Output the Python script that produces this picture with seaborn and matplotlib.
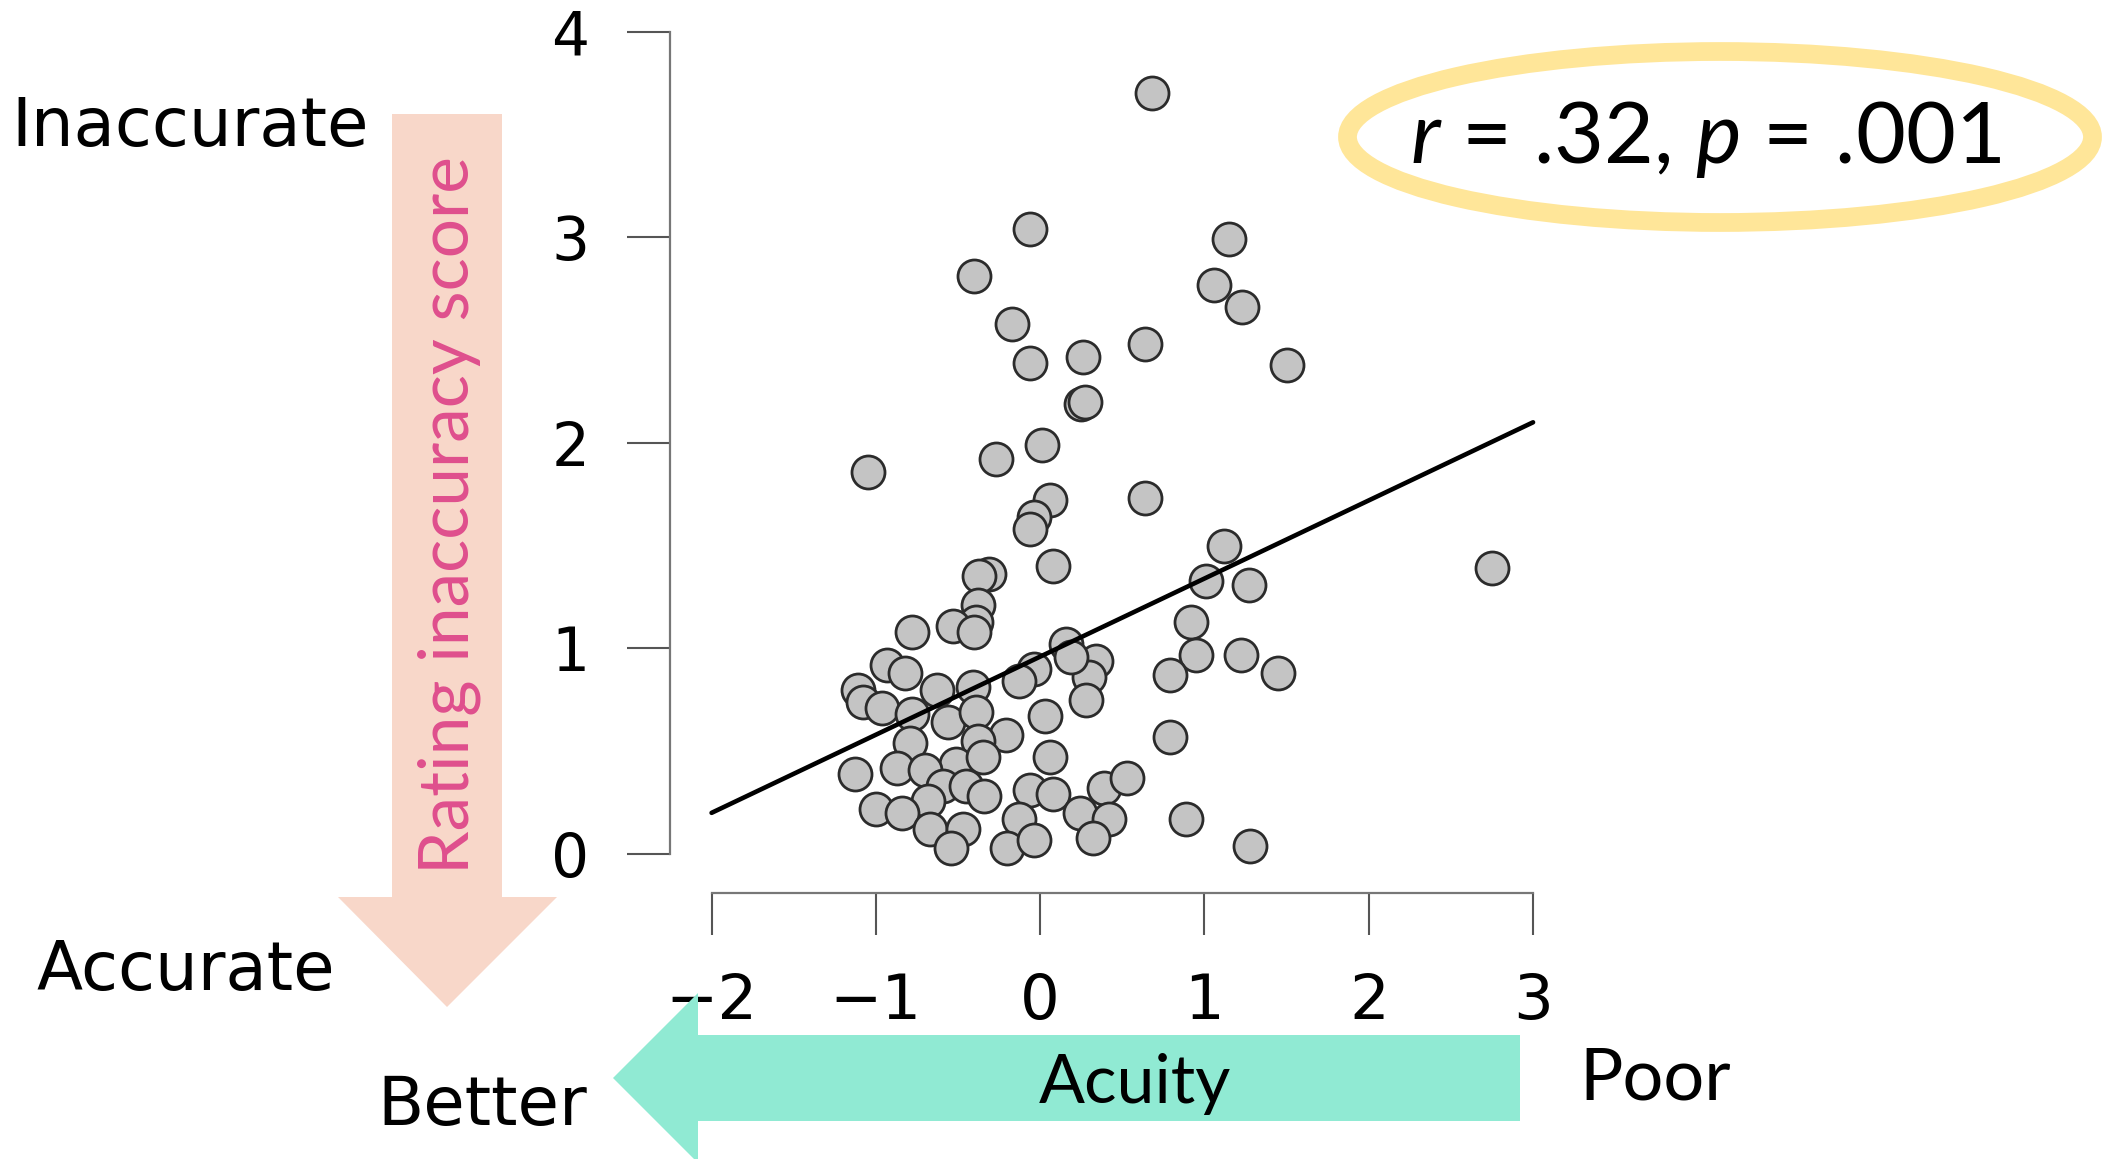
import seaborn as sns
import matplotlib.pyplot as plt
from matplotlib.patches import Polygon, Ellipse

# acuity (x) and rating inaccuracy score (y)
acuity = [0.68, -0.06, -0.40, 1.15, 1.06, 1.23, -0.17, -0.06, 0.26, 0.64,
          1.50, 0.25, 0.27, 0.01, -0.27, -1.05, 0.06, 0.64, -0.04, -0.06,
          0.08, 1.12, 1.01, 1.27, 2.75, -0.31, -0.37, -0.38, -0.39, -0.53,
          -0.78, 0.16, 0.92, 0.95, 1.22, 1.45, 0.79, 0.34, 0.30, 0.28,
          -0.04, -0.13, -0.93, -0.82, -1.11, -1.08, -0.96, -0.63, -0.41, -0.78,
          -0.56, -0.39, 0.03, -0.21, -0.38, -0.79, 0.79, 0.06, -0.51, -0.35,
          -1.13, -0.87, -0.70, -0.59, -0.45, -0.34, -0.06, 0.08, 0.39, 0.53,
          -0.68, -1.00, -0.84, -0.13, 0.24, 0.42, 0.89, -0.67, -0.47, -0.54,
          -0.20, -0.04, 0.32, 1.28, -0.40, 0.19]
inaccuracy = [3.70, 3.04, 2.81, 2.99, 2.77, 2.66, 2.58, 2.39, 2.42, 2.48,
              2.38, 2.19, 2.20, 1.99, 1.92, 1.86, 1.72, 1.73, 1.64, 1.58,
              1.40, 1.50, 1.33, 1.31, 1.39, 1.36, 1.35, 1.21, 1.13, 1.11,
              1.08, 1.02, 1.13, 0.97, 0.97, 0.88, 0.87, 0.94, 0.86, 0.75,
              0.90, 0.84, 0.92, 0.88, 0.80, 0.74, 0.71, 0.80, 0.81, 0.68,
              0.64, 0.69, 0.67, 0.58, 0.55, 0.54, 0.57, 0.47, 0.44, 0.47,
              0.39, 0.42, 0.41, 0.33, 0.33, 0.28, 0.31, 0.29, 0.32, 0.37,
              0.26, 0.22, 0.20, 0.17, 0.20, 0.17, 0.17, 0.12, 0.12, 0.03,
              0.03, 0.07, 0.08, 0.04, 1.08, 0.96]

# fitted line as drawn in the figure (end points at x = -2 and x = 3)
fit_x = [-2, 3]
fit_y = [0.20, 2.10]

x_ticks = [-2, -1, 0, 1, 2, 3]
y_ticks = [0, 1, 2, 3, 4]
stat_text = r'$\mathit{r}$ = .32, $\mathit{p}$ = .001'

sns.set_style('ticks')
plt.rcParams['font.family'] = ['DejaVu Sans']
plt.rcParams['text.color'] = 'black'
plt.rcParams['mathtext.fontset'] = 'custom'
plt.rcParams['mathtext.it'] = 'Lato:italic'
plt.rcParams['mathtext.rm'] = 'Lato'

fig = plt.figure(figsize=(21.05, 11.59), dpi=100)
ax = fig.add_axes([0.3183, 0.2295, 0.4178, 0.7431])
ax.patch.set_alpha(0)

sns.scatterplot(x=acuity, y=inaccuracy, s=565, color='#c4c4c4',
                edgecolor='#2b2b2b', linewidth=2, ax=ax)
sns.lineplot(x=fit_x, y=fit_y, color='black', linewidth=3.3, ax=ax)
ax.set_xlim(-2.253, 3.1)
ax.set_ylim(-0.19, 4.0)

sns.despine(ax=ax)
ax.spines['left'].set_bounds(0, 4)
ax.spines['bottom'].set_bounds(-2, 3)
for s in ['left', 'bottom']:
    ax.spines[s].set_color('#777777')
    ax.spines[s].set_linewidth(1.6)
ax.set_xticks(x_ticks)
ax.set_yticks(y_ticks)
ax.tick_params(axis='y', length=31, width=1.5, color='#555555', labelcolor='black',
               pad=27, labelsize=43)
ax.tick_params(axis='x', length=30, width=1.5, color='#555555', labelcolor='black',
               pad=27, labelsize=45)
ax.set_xlabel('')
ax.set_ylabel('')

# overlay in pixel coordinates for arrows and labels
ov = fig.add_axes([0, 0, 1, 1], zorder=5)
ov.set_xlim(0, 2105)
ov.set_ylim(1159, 0)
ov.axis('off')

pink = [(392, 114), (502, 114), (502, 897), (557, 897), (447, 1007), (338, 897), (392, 897)]
ov.add_patch(Polygon(pink, closed=True, facecolor='#f8d7c9', edgecolor='none'))
green = [(1520, 1035), (1520, 1121), (698, 1121), (698, 1163), (613, 1078), (698, 993), (698, 1035)]
ov.add_patch(Polygon(green, closed=True, facecolor='#90ead3', edgecolor='none'))
ov.add_patch(Ellipse((1720, 137), 745, 171, facecolor='none', edgecolor='#ffe699', lw=13.5))

ov.text(449, 515, 'Rating inaccuracy score', rotation=90, ha='center', va='center',
        color='#df4f8d', family='Lato', fontsize=50)
ov.text(1135, 1103, 'Acuity', ha='center', va='baseline', family='Lato', fontsize=49)
ov.text(1579, 1100, 'Poor', ha='left', va='baseline', family='Lato', fontsize=52)
ov.text(1706, 163, stat_text, ha='center', va='baseline', family='Lato', fontsize=62)

ov.text(11, 146, 'Inaccurate', ha='left', va='baseline', fontsize=48.5)
ov.text(36, 990, 'Accurate', ha='left', va='baseline', fontsize=48.5)
ov.text(377, 1125, 'Better', ha='left', va='baseline', fontsize=48.5)

fig.savefig('out.png', dpi=100)
